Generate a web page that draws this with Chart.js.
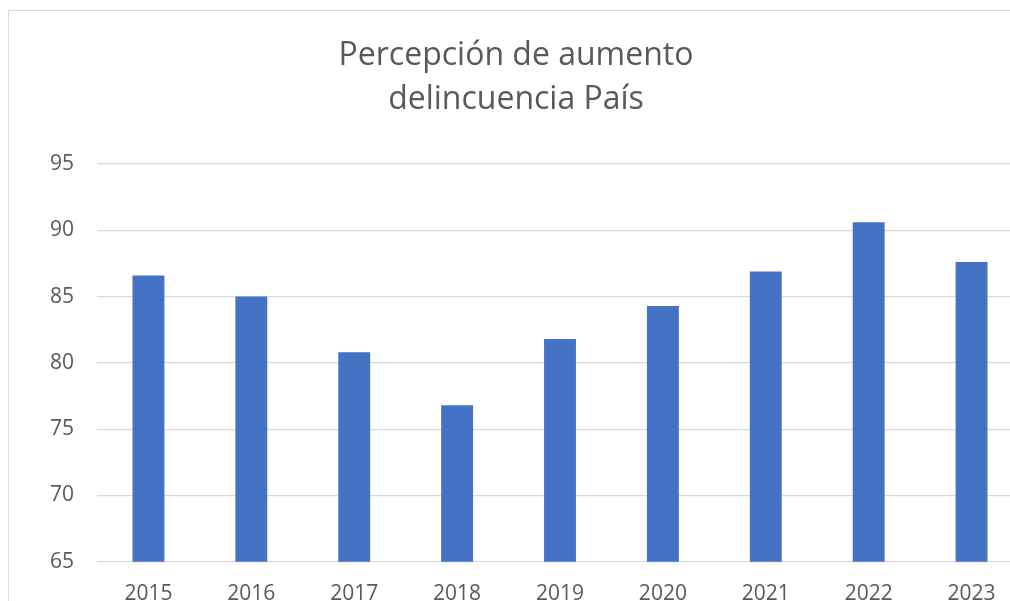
<!DOCTYPE html>
<html>
<head>
<meta charset="utf-8">
<script src="https://cdn.jsdelivr.net/npm/chart.js@4.4.1/dist/chart.umd.min.js"></script>
<style>
  html, body { margin: 0; padding: 0; background: #fff; overflow: hidden; width: 1010px; height: 601px; }
  #frame { position: absolute; left: 8px; top: 10px; width: 1016px; height: 620px; border: 1px solid #d9d9d9; background: #fff; }
  canvas { display: block; }
</style>
</head>
<body>
<div id="frame"><canvas id="c" width="1016" height="620"></canvas></div>
<script>
const titleLines = ['Percepción de aumento', 'delincuencia País'];
const categories = ['2015', '2016', '2017', '2018', '2019', '2020', '2021', '2022', '2023'];
const values = [86.6, 85.0, 80.8, 76.8, 81.8, 84.3, 86.9, 90.6, 87.6];
const yMin = 65, yMax = 95, yStep = 5;

const textColor = '#595959';
const gridColor = '#d9d9d9';
const barColor = '#4472C4';
const fontFamily = '"Open Sans", "Liberation Sans", sans-serif';

new Chart(document.getElementById('c'), {
  type: 'bar',
  data: {
    labels: categories,
    datasets: [{
      data: values,
      backgroundColor: barColor,
      borderWidth: 0,
      categoryPercentage: 1.0,
      barPercentage: 0.31
    }]
  },
  options: {
    responsive: false,
    animation: false,
    devicePixelRatio: 1,
    layout: { padding: { left: 0, right: 2, top: 0, bottom: 4 } },
    plugins: {
      legend: { display: false },
      tooltip: { enabled: false },
      title: {
        display: true,
        text: titleLines,
        color: textColor,
        font: { family: fontFamily, size: 32, weight: 'normal', lineHeight: '44px' },
        padding: { top: 23, bottom: 42 }
      }
    },
    scales: {
      x: {
        grid: { display: false, drawTicks: false },
        border: { display: false },
        ticks: { color: textColor, font: { family: fontFamily, size: 21 }, padding: 20, maxRotation: 0 }
      },
      y: {
        min: yMin,
        max: yMax,
        afterFit: (scale) => { scale.width = 88; },
        grid: { color: gridColor, lineWidth: 1.3, drawTicks: false },
        border: { display: false },
        ticks: { stepSize: yStep, color: textColor, font: { family: fontFamily, size: 21 }, padding: 23 }
      }
    }
  }
});
</script>
</body>
</html>
